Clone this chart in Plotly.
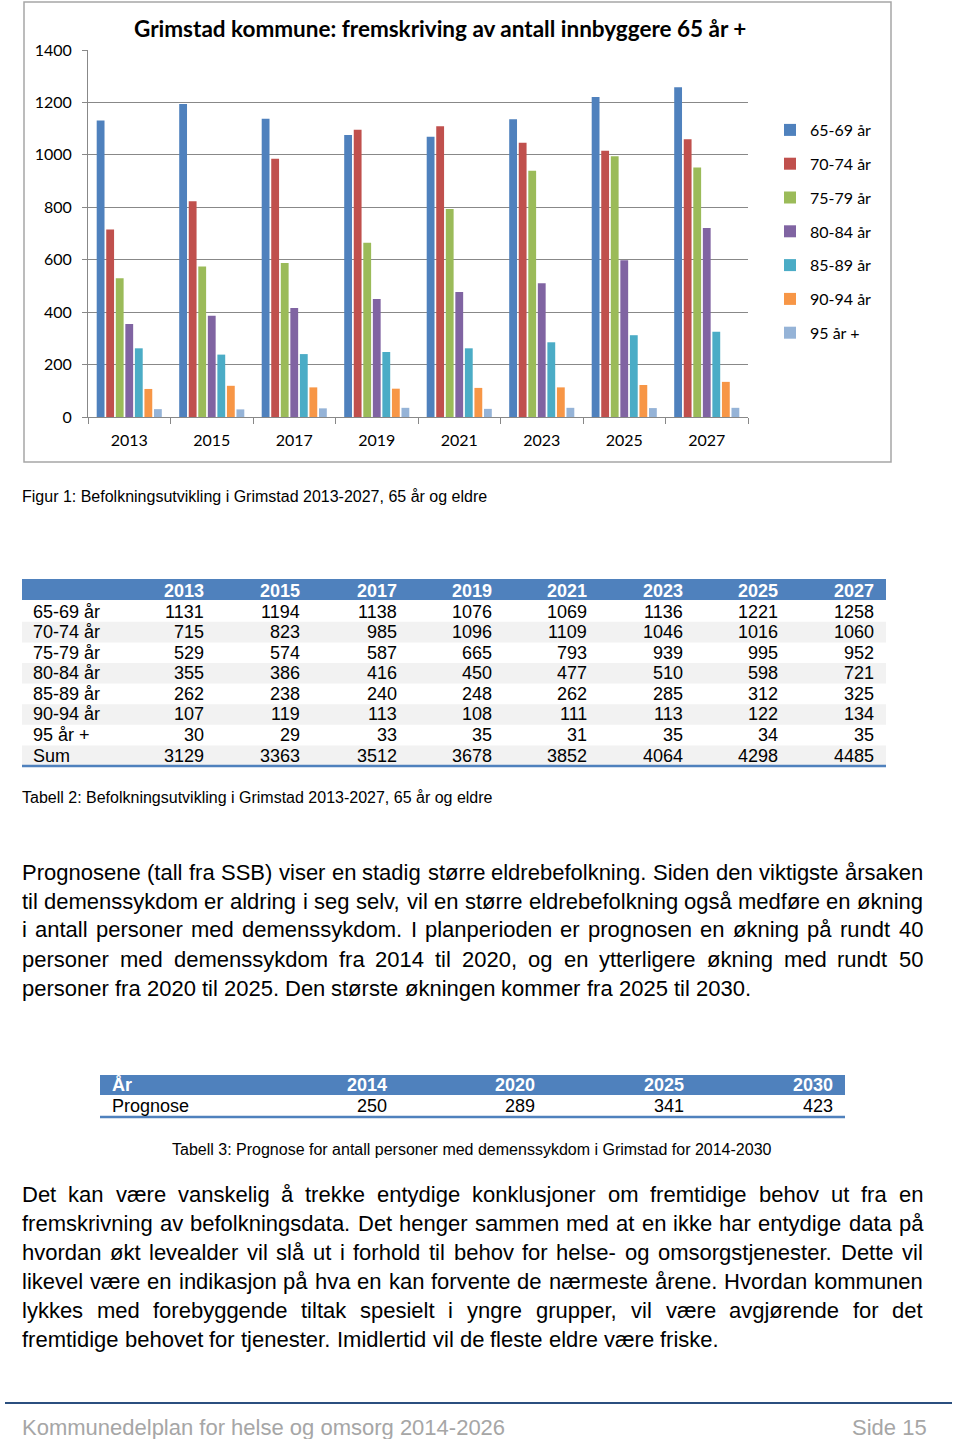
import plotly.graph_objects as go

W, H = 960, 1439

# ---------------- data ----------------
years = ["2013", "2015", "2017", "2019", "2021", "2023", "2025", "2027"]
age_groups = ["65-69 år", "70-74 år", "75-79 år", "80-84 år", "85-89 år", "90-94 år", "95 år +"]
v_65_69 = [1131, 1194, 1138, 1076, 1069, 1136, 1221, 1258]
v_70_74 = [715, 823, 985, 1096, 1109, 1046, 1016, 1060]
v_75_79 = [529, 574, 587, 665, 793, 939, 995, 952]
v_80_84 = [355, 386, 416, 450, 477, 510, 598, 721]
v_85_89 = [262, 238, 240, 248, 262, 285, 312, 325]
v_90_94 = [107, 119, 113, 108, 111, 113, 122, 134]
v_95_pluss = [30, 29, 33, 35, 31, 35, 34, 35]
series = [v_65_69, v_70_74, v_75_79, v_80_84, v_85_89, v_90_94, v_95_pluss]
colors = ["#4F81BD", "#C0504D", "#9BBB59", "#8064A2", "#4BACC6", "#F79646", "#95B3D7"]

prog_years = ["2014", "2020", "2025", "2030"]
prog_values = [250, 289, 341, 423]

chart_title = "Grimstad kommune: fremskriving av antall innbyggere 65 år +"
fig1_caption = "Figur 1: Befolkningsutvikling i Grimstad 2013-2027, 65 år og eldre"
tab2_caption = "Tabell 2: Befolkningsutvikling i Grimstad 2013-2027, 65 år og eldre"
tab3_caption = "Tabell 3: Prognose for antall personer med demenssykdom i Grimstad for 2014-2030"
para1 = [
    "Prognosene (tall fra SSB) viser en stadig større eldrebefolkning. Siden den viktigste årsaken",
    "til demenssykdom er aldring i seg selv, vil en større eldrebefolkning også medføre en økning",
    "i antall personer med demenssykdom. I planperioden er prognosen en økning på rundt 40",
    "personer med demenssykdom fra 2014 til 2020, og en ytterligere økning med rundt 50",
    "personer fra 2020 til 2025. Den største økningen kommer fra 2025 til 2030.",
]
para2 = [
    "Det kan være vanskelig å trekke entydige konklusjoner om fremtidige behov ut fra en",
    "fremskrivning av befolkningsdata. Det henger sammen med at en ikke har entydige data på",
    "hvordan økt levealder vil slå ut i forhold til behov for helse- og omsorgstjenester. Dette vil",
    "likevel være en indikasjon på hva en kan forvente de nærmeste årene. Hvordan kommunen",
    "lykkes med forebyggende tiltak spesielt i yngre grupper, vil være avgjørende for det",
    "fremtidige behovet for tjenester. Imidlertid vil de fleste eldre være friske.",
]
footer_left = "Kommunedelplan for helse og omsorg 2014-2026"
footer_right = "Side 15"

# ---------------- helpers ----------------
ARIAL = "Liberation Sans, Arial, sans-serif"
CHART_FONT = "Lato, Open Sans, sans-serif"

def px(x):
    return x / W

def py(y):
    return 1 - y / H

annotations = []
shapes = []

def text(x, y, t, size, color="#000000", xanchor="left", family=ARIAL, bold=False):
    annotations.append(dict(
        x=px(x), y=py(y), xref="paper", yref="paper", text=("<b>%s</b>" % t) if bold else t,
        showarrow=False, xanchor=xanchor, yanchor="middle", borderpad=0, borderwidth=0,
        font=dict(family=family, size=size, color=color)))

def rect(x0, y0, x1, y1, fill=None, line=None, lw=0):
    shapes.append(dict(type="rect", xref="paper", yref="paper", x0=px(x0), x1=px(x1),
                       y0=py(y1), y1=py(y0), fillcolor=fill or "rgba(0,0,0,0)",
                       line=dict(color=line or "rgba(0,0,0,0)", width=lw), layer="below"))

def hline(x0, x1, y, color, width):
    shapes.append(dict(type="line", xref="paper", yref="paper", x0=px(x0), x1=px(x1),
                       y0=py(y), y1=py(y), line=dict(color=color, width=width)))

# Arial advance widths (1/1000 em)
AW = {}
for c in "abdeghnopqu0123456789å": AW[c] = 556
for c in "ckszvxy": AW[c] = 500
for c in "ijl": AW[c] = 222
for c in "ft .,:": AW[c] = 278
AW.update({"m": 833, "r": 333, "w": 722, "æ": 889, "ø": 611, "-": 333, "(": 333, ")": 333, "+": 584})
AW.update({"A": 667, "B": 667, "C": 722, "D": 722, "E": 667, "F": 611, "G": 778, "H": 722,
           "I": 278, "J": 500, "K": 667, "L": 556, "M": 833, "N": 722, "O": 778, "P": 667,
           "Q": 778, "R": 722, "S": 667, "T": 611, "U": 722, "V": 667, "W": 944, "X": 667,
           "Y": 667, "Z": 611})

def tw(s, size):
    return sum(AW.get(c, 556) for c in s) * size / 1000.0

def paragraph(lines, y0, step, size, xl=22, xr=923):
    for i, line in enumerate(lines):
        y = y0 + i * step
        words = line.split(" ")
        widths = [tw(w, size) for w in words]
        if i == len(lines) - 1 or len(words) < 2:
            gap = tw(" ", size)
        else:
            gap = (xr - xl - sum(widths)) / (len(words) - 1)
        x = xl
        for w, wd in zip(words, widths):
            text(x, y, w, size)
            x += wd + gap

# ---------------- chart ----------------
fig = go.Figure()
for name, vals, col in zip(age_groups, series, colors):
    fig.add_trace(go.Bar(x=years, y=vals, name=name, marker=dict(color=col, line=dict(width=0)),
                         legendgroup=name))

# chart frame
rect(24, 2, 891, 462, line="#A6A6A6", lw=1.5)
text(440, 28, chart_title, 22.5, family=CHART_FONT, xanchor="center", bold=True)

# figure caption
text(22, 496, fig1_caption, 16)

# ---------------- table 2 ----------------
col_right = [204, 300, 397, 492, 587, 683, 778, 874]
row_y0, row_step = 611.5, 20.6
rect(22, 579, 886, 600, fill="#4F81BD")
for r in range(len(age_groups) + 1):
    if r % 2 == 1:
        yc = row_y0 + r * row_step
        rect(22, yc - row_step / 2, 886, yc + row_step / 2, fill="#F2F2F2")
for yr, xr in zip(years, col_right):
    text(xr, 590.5, yr, 18, color="#FFFFFF", xanchor="right", bold=True)
sums = [sum(s[j] for s in series) for j in range(len(years))]
rows = list(zip(age_groups, series)) + [("Sum", sums)]
for r, (lab, vals) in enumerate(rows):
    yc = row_y0 + r * row_step
    text(33, yc, lab, 18)
    for v, xr in zip(vals, col_right):
        text(xr, yc, str(v), 18, xanchor="right")
hline(22, 886, 766, "#4F81BD", 2.5)
text(22, 798, tab2_caption, 16)

# ---------------- paragraph 1 ----------------
paragraph(para1, 872, 29, 22)

# ---------------- table 3 ----------------
rect(100, 1075, 845, 1095, fill="#4F81BD")
text(112, 1085, "År", 18, color="#FFFFFF", bold=True)
p_right = [387, 535, 684, 833]
for yr, xr in zip(prog_years, p_right):
    text(xr, 1085, yr, 18, color="#FFFFFF", xanchor="right", bold=True)
text(112, 1106, "Prognose", 18)
for v, xr in zip(prog_values, p_right):
    text(xr, 1106, str(v), 18, xanchor="right")
hline(100, 845, 1117, "#4F81BD", 2.5)
text(472, 1149, tab3_caption, 16, xanchor="center")

# ---------------- paragraph 2 ----------------
paragraph(para2, 1194, 29, 22)

# ---------------- footer ----------------
hline(5, 952, 1403, "#2B4F7F", 2)
text(22, 1427, footer_left, 22, color="#A6A6A6")
text(927, 1427, footer_right, 22, color="#A6A6A6", xanchor="right")

axis_col = "#888888"
fig.update_layout(
    width=W, height=H, margin=dict(l=0, r=0, t=0, b=0, autoexpand=False),
    paper_bgcolor="#FFFFFF", plot_bgcolor="#FFFFFF",
    barmode="group", bargap=0.19, bargroupgap=0.18,
    font=dict(family=CHART_FONT, size=16, color="#000000"),
    xaxis=dict(domain=[px(88), px(748)], type="category", showline=True, linecolor=axis_col,
               linewidth=1, ticks="outside", tickson="boundaries", ticklen=6, tickcolor=axis_col,
               showgrid=False, tickfont=dict(family=CHART_FONT, size=16), ticklabelstandoff=9),
    yaxis=dict(domain=[py(417), py(50)], range=[0, 1400], tickvals=list(range(0, 1401, 200)),
               showline=True, linecolor=axis_col, linewidth=1, ticks="outside", ticklen=5,
               tickcolor=axis_col, showgrid=True, gridcolor=axis_col, gridwidth=1,
               zeroline=False, tickfont=dict(family=CHART_FONT, size=16), ticklabelstandoff=7),
    legend=dict(x=px(770), y=py(113), xanchor="left", yanchor="top", tracegroupgap=10,
                font=dict(family=CHART_FONT, size=16), bgcolor="rgba(0,0,0,0)"),
    showlegend=True,
    annotations=annotations, shapes=shapes,
)

fig.write_html("out.html", config={"displayModeBar": False},
               post_script="document.body.style.margin='0';")
